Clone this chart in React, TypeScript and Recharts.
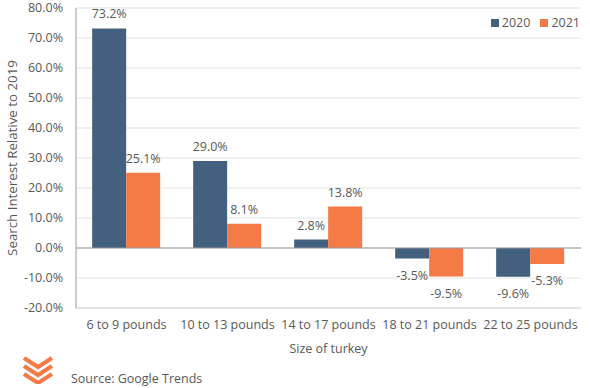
import * as React from 'react';
import {
  BarChart,
  Bar,
  XAxis,
  YAxis,
  CartesianGrid,
  ReferenceLine,
  LabelList,
  Label,
} from 'recharts';

const categories = ['6 to 9 pounds', '10 to 13 pounds', '14 to 17 pounds', '18 to 21 pounds', '22 to 25 pounds'];
const values2020 = [73.2, 29.0, 2.8, -3.5, -9.6];
const values2021 = [25.1, 8.1, 13.8, -9.5, -5.3];
const yTicks = [-20, -10, 0, 10, 20, 30, 40, 50, 60, 70, 80];

const BLUE = '#44607f';
const ORANGE = '#f47b45';
const TEXT = '#595959';
const FONT = '"Open Sans", sans-serif';

const data = categories.map((name, i) => ({
  name,
  y2020: values2020[i],
  y2021: values2021[i],
}));

const BarValueLabel = (props: any) => {
  const { x, y, width, height, value } = props;
  const top = Math.min(y, y + height);
  const bottom = Math.max(y, y + height);
  const cx = x + width / 2;
  const ty = value < 0 ? bottom + 21 : top - 10;
  return (
    <text x={cx} y={ty} textAnchor="middle" fill={TEXT} fontSize={12.5} fontFamily={FONT}>
      {value.toFixed(1) + '%'}
    </text>
  );
};

const YTitle = (props: any) => {
  const { viewBox } = props;
  const cy = viewBox.y + viewBox.height / 2;
  return (
    <text
      x={13}
      y={cy}
      dy={4}
      transform={`rotate(-90, 13, ${cy})`}
      textAnchor="middle"
      fill={TEXT}
      fontSize={13.3}
      fontFamily={FONT}
    >
      Search Interest Relative to 2019
    </text>
  );
};

// legend drawn outside the chart so it doesn't shrink the plot area
const LegendBox = () => (
  <div
    style={{
      position: 'absolute',
      right: 10,
      top: 14,
      display: 'flex',
      gap: 10,
      fontFamily: FONT,
      fontSize: 12.5,
      color: TEXT,
    }}
  >
    {[
      ['2020', BLUE],
      ['2021', ORANGE],
    ].map(([label, color]) => (
      <div key={label} style={{ display: 'flex', alignItems: 'center', gap: 3 }}>
        <span style={{ width: 8, height: 8, background: color, display: 'inline-block' }} />
        <span>{label}</span>
      </div>
    ))}
  </div>
);

export default function App() {
  return (
    <div style={{ position: 'absolute', left: 0, top: 0, width: 590, height: 388, background: '#fff' }}>
      <BarChart
        width={590}
        height={388}
        data={data}
        margin={{ top: 8, right: 9, left: 0, bottom: 50 }}
        barCategoryGap="16%"
        barGap={0}
      >
        <CartesianGrid vertical={false} stroke="#e3e3e3" />
        <XAxis
          dataKey="name"
          height={30}
          tickLine={false}
          axisLine={{ stroke: '#d9d9d9' }}
          tickMargin={6}
          interval={0}
          tick={{ fill: TEXT, fontSize: 12.5, fontFamily: FONT }}
        >
          <Label
            value="Size of turkey"
            position="bottom"
            offset={6}
            style={{ fill: TEXT, fontSize: 12.5, fontFamily: FONT }}
          />
        </XAxis>
        <YAxis
          width={76}
          domain={[-20, 80]}
          ticks={yTicks}
          interval={0}
          tickLine={false}
          tickMargin={7}
          axisLine={{ stroke: '#999999' }}
          tickFormatter={(v: number) => v.toFixed(1) + '%'}
          tick={{ fill: TEXT, fontSize: 12.5, fontFamily: FONT }}
        >
          <Label content={<YTitle />} />
        </YAxis>
        <ReferenceLine y={0} stroke="#999999" />
        <Bar dataKey="y2020" name="2020" fill={BLUE} isAnimationActive={false}>
          <LabelList dataKey="y2020" content={<BarValueLabel />} />
        </Bar>
        <Bar dataKey="y2021" name="2021" fill={ORANGE} isAnimationActive={false}>
          <LabelList dataKey="y2021" content={<BarValueLabel />} />
        </Bar>
      </BarChart>
      <LegendBox />
      <svg width={34} height={28} style={{ position: 'absolute', left: 22, top: 356 }}>
        {[0, 8, 16].map((dy) => (
          <polyline
            key={dy}
            points={`2,${2 + dy} 16,${11 + dy} 30,${2 + dy}`}
            fill="none"
            stroke={ORANGE}
            strokeWidth={4}
          />
        ))}
      </svg>
      <div
        style={{
          position: 'absolute',
          left: 71,
          top: 370,
          fontFamily: FONT,
          fontSize: 12.5,
          color: TEXT,
        }}
      >
        Source: Google Trends
      </div>
    </div>
  );
}
